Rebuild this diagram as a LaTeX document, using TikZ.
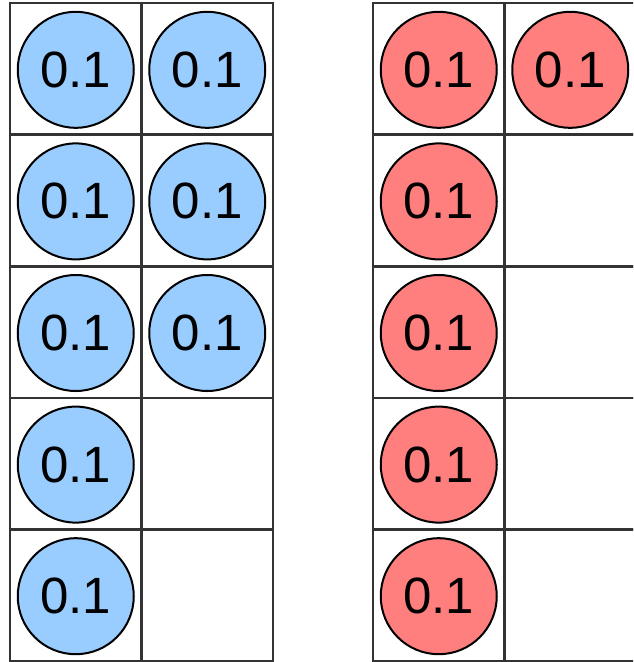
\documentclass[tikz,border=0pt]{standalone}
\usepackage{fontspec}
\setmainfont{Liberation Sans}
\definecolor{cellline}{HTML}{333333}
\definecolor{bluefill}{HTML}{99CCFF}
\definecolor{redfill}{HTML}{FF7F7F}
\tikzset{
  cellbox/.style={draw=cellline, line width=2.6pt, fill=white, minimum width=131.5pt, minimum height=131.6pt, inner sep=0pt, outer sep=0pt},
  ball/.style={circle, draw=black, line width=2pt, minimum size=116pt, inner sep=0pt, font=\fontsize{51}{51}\selectfont},
  blueball/.style={ball, fill=bluefill},
  redball/.style={ball, fill=redfill},
}
\begin{document}
\begin{tikzpicture}[x=1pt,y=-1pt]
\useasboundingbox (0,0) rectangle (633,662);
\clip (0,0) rectangle (633,662);
% cells
\foreach \r in {0,...,4}{
  \foreach \c/\x in {0/75.75,1/207.25}{
    \node[cellbox] (L\r\c) at (\x,{3+131.6*\r+65.8}) {};
  }
  \foreach \c/\x in {0/438.75,1/570.25}{
    \node[cellbox] (R\r\c) at (\x,{3+131.6*\r+65.8}) {};
  }
}
% blue balls
\foreach \r in {0,...,4}{ \node[blueball] (bl\r) at ([yshift=-1pt]L\r0) {\raisebox{-2pt}{0.1}}; }
\foreach \r in {0,...,2}{ \node[blueball] (br\r) at ([yshift=-1pt]L\r1) {\raisebox{-2pt}{0.1}}; }
% red balls
\foreach \r in {0,...,4}{ \node[redball] (rl\r) at ([yshift=-1pt]R\r0) {\raisebox{-2pt}{0.1}}; }
\node[redball] (rr0) at ([yshift=-1pt]R01) {\raisebox{-2pt}{0.1}};
\end{tikzpicture}
\end{document}
